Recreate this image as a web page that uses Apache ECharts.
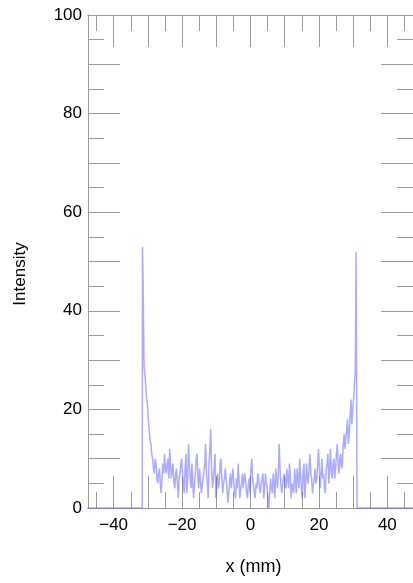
<!DOCTYPE html>
<html>
<head>
<meta charset="utf-8">
<script src="https://cdn.jsdelivr.net/npm/echarts@6/dist/echarts.min.js"></script>
<style>
html,body{margin:0;padding:0;background:#fff;}
#chart{width:413px;height:583px;}
</style>
</head>
<body>
<div id="chart"></div>
<script>
// x range and bins (mm)
const xRange = [-47.5, 47.5];
const binStart = -31.5;
const binStep = 0.25;
const leftEdge = -31.65;
const rightEdge = 31.3;
// intensity values, one per bin from -31.5 to 31.0
const intensity = [
  53,45,29,27,25,22,21,18,16,14,
  13,11,10,8,7,10,9,6,5,7,
  8,5,3,6,9,7,11,8,7,9,
  10,6,12,9,6,8,9,5,4,7,
  8,5,2,6,7,9,10,7,5,3,
  8,11,3,6,13,9,6,4,9,5,
  2,5,7,10,11,6,4,8,8,3,
  3,6,6,9,13,7,5,2,9,12,
  16,8,4,6,8,11,2,5,7,4,
  5,9,10,6,3,5,6,8,8,4,
  1,3,5,7,4,6,8,5,3,2,
  6,4,9,6,2,4,5,7,4,6,
  7,5,3,2,5,6,3,8,10,6,
  6,3,2,5,4,7,6,4,3,5,
  5,7,2,4,7,5,4,2,0,3,
  6,4,3,7,5,2,8,6,4,7,
  13,8,5,3,3,6,7,5,4,8,
  6,4,9,7,2,5,5,3,8,6,
  3,8,6,4,10,7,4,2,7,9,
  2,5,9,6,5,8,11,7,6,3,
  3,6,8,5,6,9,12,8,4,7,
  10,6,7,4,3,8,9,11,5,8,
  12,7,6,9,10,6,8,11,13,9,
  7,10,11,8,9,13,15,12,12,16,
  18,13,15,19,22,17,20,22,22,28,
  52
];
const xMajorTicks = [-40,-30,-20,-10,0,10,20,30,40];
const xMinorTicks = [-45,-35,-25,-15,-5,5,15,25,35,45];
const xTickLabels = [-40,-20,0,20,40];
const yMajorTicks = [0,10,20,30,40,50,60,70,80,90,100];
const yMinorTicks = [5,15,25,35,45,55,65,75,85,95];
const yTickLabels = [0,20,40,60,80,100];

const data = [[xRange[0],0],[leftEdge,0]];
intensity.forEach((v,i)=>data.push([binStart + i*binStep, v]));
data.push([rightEdge,0],[xRange[1],0]);

const frame = '#9a9a9a';
const font = 'Liberation Sans, Arial, sans-serif';
const lab = {color:'#000', fontFamily:font, fontSize:17};
const fmt = v => v < 0 ? '\u2212' + (-v) : String(v);

function xAx(pos, ticks, len, labels, extra){
  return Object.assign({
    type:'value', min:xRange[0], max:xRange[1], position:pos, gridIndex:0,
    axisLine:{show:true, onZero:false, lineStyle:{color:frame, width:1}},
    axisTick:{show:true, inside:true, length:len, customValues:ticks, lineStyle:{color:frame, width:1}},
    axisLabel: labels ? Object.assign({customValues:labels, margin:9, formatter:fmt}, lab) : {show:false},
    splitLine:{show:false}
  }, extra||{});
}
function yAx(pos, ticks, len, labels, extra){
  return Object.assign({
    type:'value', min:0, max:100, position:pos, gridIndex:0,
    axisLine:{show:true, onZero:false, lineStyle:{color:frame, width:1}},
    axisTick:{show:true, inside:true, length:len, customValues:ticks, lineStyle:{color:frame, width:1}},
    axisLabel: labels ? Object.assign({customValues:labels, margin:6, formatter:fmt}, lab) : {show:false},
    splitLine:{show:false}
  }, extra||{});
}

const chart = echarts.init(document.getElementById('chart'), null, {renderer:'canvas'});
chart.setOption({
  animation:false,
  backgroundColor:'#fff',
  grid:{left:88, top:15, width:326, height:493, containLabel:false},
  xAxis:[
    xAx('bottom', xMajorTicks, 32, xTickLabels, {name:'x (mm)', nameLocation:'middle', nameGap:50, nameTextStyle:{color:'#000', fontFamily:font, fontSize:18, padding:[0,0,0,6]}}),
    xAx('bottom', xMinorTicks, 16, null),
    xAx('top', xMajorTicks, 32, null),
    xAx('top', xMinorTicks, 16, null)
  ],
  yAxis:[
    yAx('left', yMajorTicks, 32, yTickLabels),
    yAx('left', yMinorTicks, 16, null),
    yAx('right', yMajorTicks, 32, null),
    yAx('right', yMinorTicks, 16, null)
  ],
  graphic:[{
    type:'text', x:20, y:274, rotation:Math.PI/2,
    style:{text:'Intensity', fill:'#000', font:'17px Liberation Sans, Arial, sans-serif', align:'center', verticalAlign:'middle'}
  }],
  series:[{
    type:'line', xAxisIndex:0, yAxisIndex:0, data:data, step:'middle',
    showSymbol:false, symbol:'none',
    lineStyle:{color:'rgba(90,90,255,0.5)', width:1.5}
  }]
});
</script>
</body>
</html>
